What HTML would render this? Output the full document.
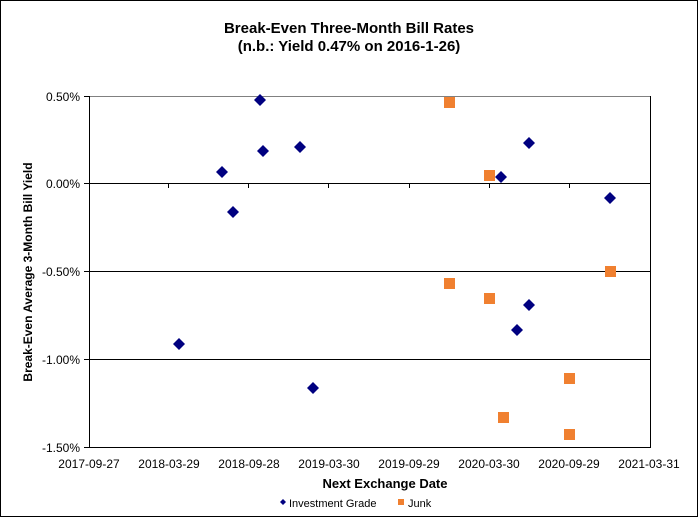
<!DOCTYPE html>
<html><head><style>
body{margin:0;background:#fff}
svg{display:block;font-family:"Liberation Sans",Arial,sans-serif}
</style></head><body>
<svg width="698" height="517" viewBox="0 0 698 517">
<rect x="0.5" y="0.5" width="697" height="516" fill="#fff" stroke="#000"/>
<text x="349" y="33" font-size="15" font-weight="bold" text-anchor="middle">Break-Even Three-Month Bill Rates</text>
<text x="349" y="51" font-size="15" font-weight="bold" text-anchor="middle">(n.b.: Yield 0.47% on 2016-1-26)</text>
<g stroke="#000" stroke-width="1">
<line x1="89" y1="96.5" x2="650" y2="96.5" stroke="#808080"/>
<line x1="89" y1="183.5" x2="650" y2="183.5"/>
<line x1="89" y1="271.5" x2="650" y2="271.5"/>
<line x1="89" y1="359.5" x2="650" y2="359.5"/>
<line x1="89" y1="447.5" x2="650.5" y2="447.5"/>
<line x1="89.5" y1="96" x2="89.5" y2="448"/>
<line x1="650.5" y1="96" x2="650.5" y2="448"/>
<line x1="84" y1="96.5" x2="89" y2="96.5"/>
<line x1="84" y1="183.5" x2="89" y2="183.5"/>
<line x1="84" y1="271.5" x2="89" y2="271.5"/>
<line x1="84" y1="359.5" x2="89" y2="359.5"/>
<line x1="84" y1="447.5" x2="89" y2="447.5"/>
<line x1="168.5" y1="183" x2="168.5" y2="188"/>
<line x1="248.5" y1="183" x2="248.5" y2="188"/>
<line x1="328.5" y1="183" x2="328.5" y2="188"/>
<line x1="409.5" y1="183" x2="409.5" y2="188"/>
<line x1="489.5" y1="183" x2="489.5" y2="188"/>
<line x1="569.5" y1="183" x2="569.5" y2="188"/>
</g>
<g font-size="12" text-anchor="end">
<text x="80" y="101">0.50%</text>
<text x="80" y="188">0.00%</text>
<text x="80" y="276">-0.50%</text>
<text x="80" y="364">-1.00%</text>
<text x="80" y="452">-1.50%</text>
</g>
<g font-size="12" text-anchor="middle">
<text x="89" y="468">2017-09-27</text>
<text x="169" y="468">2018-03-29</text>
<text x="249" y="468">2018-09-28</text>
<text x="329" y="468">2019-03-30</text>
<text x="409" y="468">2019-09-29</text>
<text x="489" y="468">2020-03-30</text>
<text x="569" y="468">2020-09-29</text>
<text x="649" y="468">2021-03-31</text>
</g>
<text x="385" y="488" font-size="13" font-weight="bold" text-anchor="middle">Next Exchange Date</text>
<text transform="translate(32,272) rotate(-90)" font-size="12" font-weight="bold" text-anchor="middle">Break-Even Average 3-Month Bill Yield</text>
<g fill="#000080">
<path d="M179 338l6 6-6 6-6-6z"/>
<path d="M222 166l6 6-6 6-6-6z"/>
<path d="M233 206l6 6-6 6-6-6z"/>
<path d="M260 94l6 6-6 6-6-6z"/>
<path d="M263 145l6 6-6 6-6-6z"/>
<path d="M300 141l6 6-6 6-6-6z"/>
<path d="M313 382l6 6-6 6-6-6z"/>
<path d="M501 171l6 6-6 6-6-6z"/>
<path d="M529 137l6 6-6 6-6-6z"/>
<path d="M517 324l6 6-6 6-6-6z"/>
<path d="M529 299l6 6-6 6-6-6z"/>
<path d="M610 192l6 6-6 6-6-6z"/>
<path d="M283 499l3 3-3 3-3-3z"/>
</g>
<g fill="#f08030">
<rect x="444" y="97" width="11" height="11"/>
<rect x="484" y="170" width="11" height="11"/>
<rect x="444" y="278" width="11" height="11"/>
<rect x="484" y="293" width="11" height="11"/>
<rect x="498" y="412" width="11" height="11"/>
<rect x="564" y="373" width="11" height="11"/>
<rect x="564" y="429" width="11" height="11"/>
<rect x="605" y="266" width="11" height="11"/>
<rect x="398" y="499" width="6" height="6"/>
</g>
<text x="289" y="507" font-size="11">Investment Grade</text>
<text x="408" y="507" font-size="11">Junk</text>
</svg>
</body></html>
